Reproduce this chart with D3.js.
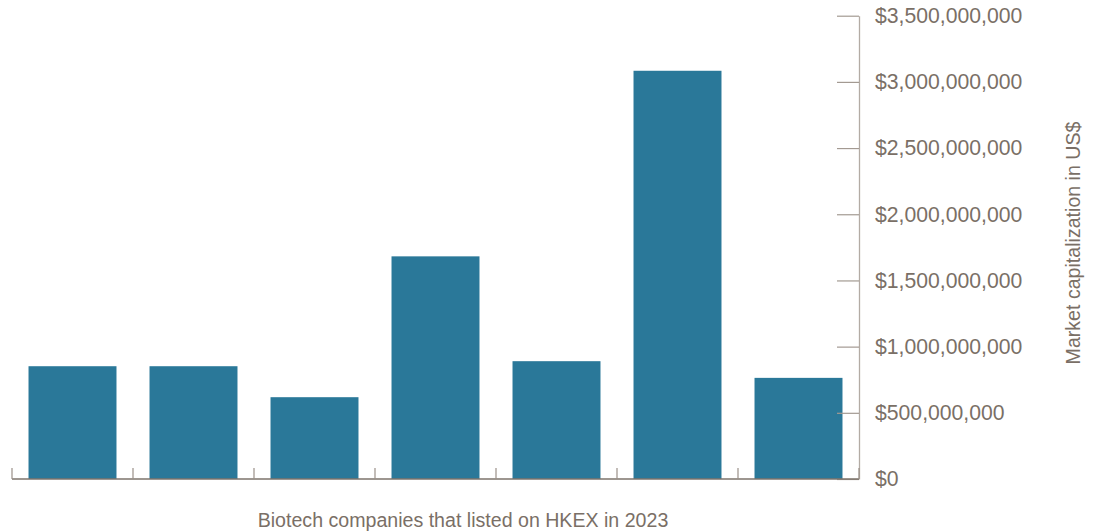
<!DOCTYPE html>
<html>
<head>
<meta charset="utf-8">
<script src="https://cdn.jsdelivr.net/npm/d3@7"></script>
<style>
  html, body { margin: 0; padding: 0; background: #fff; }
  svg { display: block; }
  text { font-family: "Liberation Sans", Arial, sans-serif; fill: #7a6f66; }
</style>
</head>
<body>
<svg id="chart" width="1097" height="531"></svg>
<script>
// Market capitalization of biotech companies listed on HKEX in 2023 (US$)
const companies = ["A", "B", "C", "D", "E", "F", "G"];
const marketCap = [852e6, 852e6, 618e6, 1682e6, 890e6, 3084e6, 764e6];
const yTicks = [0, 500e6, 1000e6, 1500e6, 2000e6, 2500e6, 3000e6, 3500e6];

const svg = d3.select("#chart");
const plotLeft = 12, plotRight = 859, plotTop = 15.7, plotBottom = 479;

const x = d3.scaleBand()
  .domain(companies)
  .range([plotLeft, plotRight])
  .paddingInner(0.273)
  .paddingOuter(0.1365);

const y = d3.scaleLinear()
  .domain([0, 3500e6])
  .range([plotBottom, plotTop]);

// Bars
svg.append("g")
  .selectAll("rect")
  .data(companies)
  .join("rect")
  .attr("x", d => x(d))
  .attr("width", x.bandwidth())
  .attr("y", (d, i) => y(marketCap[i]))
  .attr("height", (d, i) => y(0) - y(marketCap[i]))
  .attr("fill", "#2a7899");

// Value axis on the right, ticks pointing inward
const fmt = d => "$" + d3.format(",")(d);
const yAxis = svg.append("g")
  .attr("transform", `translate(${plotRight},0)`)
  .call(d3.axisRight(y).tickValues(yTicks).tickFormat(fmt)
    .tickSizeInner(-22).tickSizeOuter(0).tickPadding(16));
yAxis.select(".domain").attr("stroke", "#b3aba4").attr("stroke-width", 1.3);
yAxis.selectAll(".tick line").attr("stroke", "#a39a92").attr("stroke-width", 1.2);
yAxis.selectAll(".tick text")
  .attr("font-size", 21.2)
  .attr("fill", "#7a6f66")
  .attr("font-family", "'Liberation Sans', Arial, sans-serif");

// Category axis: baseline with separators between bands
const gap = x.step() - x.bandwidth();
const boundaries = companies.map(d => x(d) - gap / 2)
  .concat([x(companies[companies.length - 1]) + x.bandwidth() + gap / 2]);
const xg = svg.append("g");
xg.append("line")
  .attr("x1", plotLeft).attr("x2", plotRight)
  .attr("y1", plotBottom).attr("y2", plotBottom)
  .attr("stroke", "#7d736b").attr("stroke-width", 1.3);
xg.selectAll("line.sep")
  .data(boundaries)
  .join("line")
  .attr("class", "sep")
  .attr("x1", d => d).attr("x2", d => d)
  .attr("y1", plotBottom).attr("y2", plotBottom - 11)
  .attr("stroke", "#9a9089").attr("stroke-width", 1.2);

// Axis titles
svg.append("text")
  .attr("x", 463)
  .attr("y", 527)
  .attr("text-anchor", "middle")
  .attr("font-size", 19.6)
  .text("Biotech companies that listed on HKEX in 2023");

svg.append("text")
  .attr("transform", `translate(1080,243) rotate(-90)`)
  .attr("text-anchor", "middle")
  .attr("font-size", 19.6)
  .text("Market capitalization in US$");
</script>
</body>
</html>
